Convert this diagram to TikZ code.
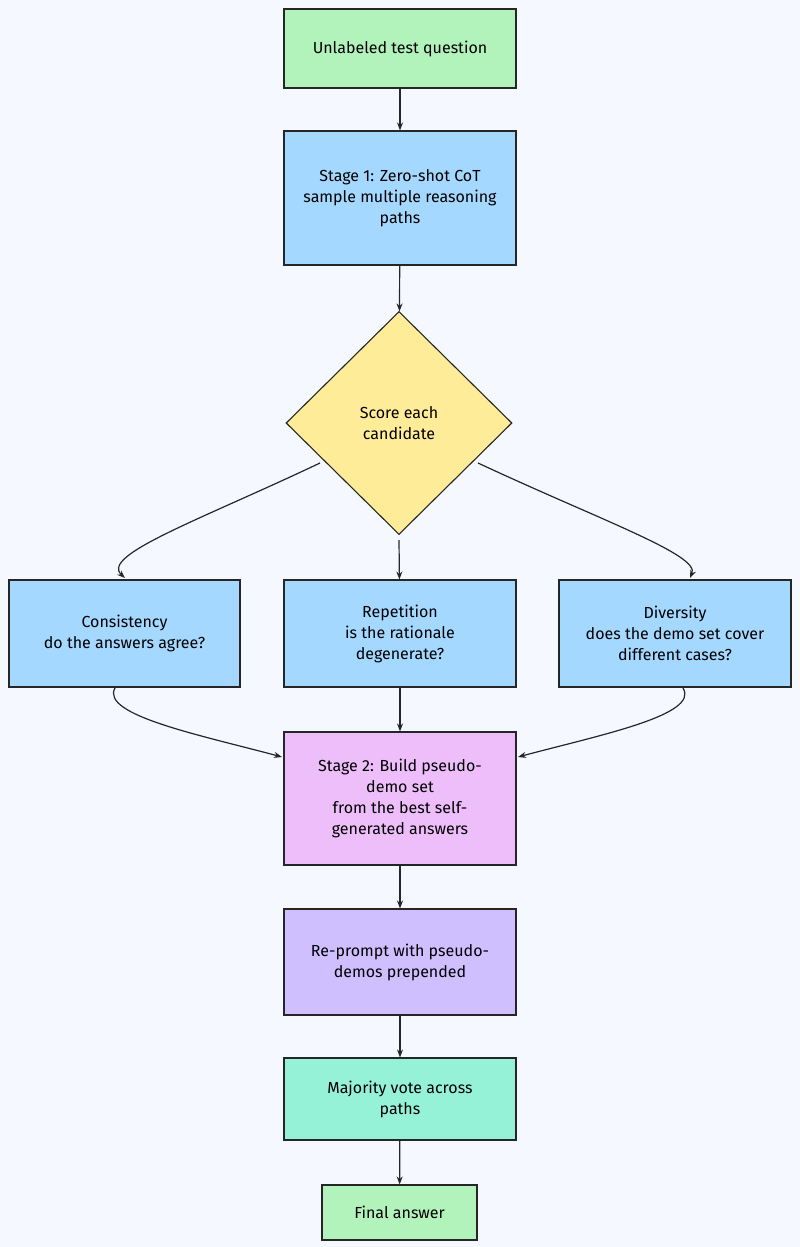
\documentclass[tikz,border=0pt]{standalone}
\usepackage{fontspec}
\setmainfont{Fira Sans}
\usetikzlibrary{shapes.geometric,arrows.meta}
\definecolor{bg}{HTML}{F5F9FF}
\definecolor{cgreen}{HTML}{B2F2BB}
\definecolor{cblue}{HTML}{A5D8FF}
\definecolor{cyellow}{HTML}{FFEC99}
\definecolor{cpink}{HTML}{EEBEFA}
\definecolor{cpurple}{HTML}{D0BFFF}
\definecolor{cteal}{HTML}{96F2D7}
\tikzset{
  box/.style={draw=black!85, line width=1.1pt, align=center, inner sep=2pt, font=\fontsize{16}{21}\selectfont},
  arr/.style={-{Stealth[length=8pt,width=6pt]}, line width=1.2pt, black!85}
}
\begin{document}
\begin{tikzpicture}[x=1pt,y=-1pt]
\fill[bg] (0,0) rectangle (800,1247);
\useasboundingbox (0,0) rectangle (800,1247);
\node[box, fill=cgreen, minimum width=232pt, minimum height=79pt] (q) at (400,48.5) {Unlabeled test question};
\node[box, fill=cblue, minimum width=232pt, minimum height=134pt] (s1) at (400,198) {Stage 1: Zero-shot CoT\\sample multiple reasoning\\paths};
\node[draw=black!85, line width=1.1pt, fill=cyellow, diamond, minimum width=226pt, minimum height=223pt, inner sep=0pt, align=center, font=\fontsize{16}{21}\selectfont] (d) at (399,423) {Score each\\candidate};
\node[box, fill=cblue, minimum width=231pt, minimum height=107pt] (c) at (124.5,633.5) {Consistency\\do the answers agree?};
\node[box, fill=cblue, minimum width=232pt, minimum height=107pt] (r) at (400,633.5) {Repetition\\is the rationale\\degenerate?};
\node[box, fill=cblue, minimum width=232pt, minimum height=107pt] (v) at (675,633.5) {Diversity\\does the demo set cover\\different cases?};
\node[box, fill=cpink, minimum width=232pt, minimum height=133pt] (s2) at (400,798.5) {Stage 2: Build pseudo-\\demo set\\from the best self-\\generated answers};
\node[box, fill=cpurple, minimum width=232pt, minimum height=106pt] (rp) at (400,962) {Re-prompt with pseudo-\\demos prepended};
\node[box, fill=cteal, minimum width=232pt, minimum height=82pt] (m) at (400,1099) {Majority vote across\\paths};
\node[box, fill=cgreen, minimum width=155pt, minimum height=55pt] (f) at (399.5,1212.5) {Final answer};
\draw[arr] (q) -- (s1);
\draw[arr] (s1) -- (d);
\draw[arr] (d.south) ++(0,5) -- (r);
\draw[arr] (320,463) .. controls (200,520) and (100,555) .. (125,578);
\draw[arr] (478,463) .. controls (600,520) and (700,555) .. (690,578);
\draw[arr] (r) -- (s2);
\draw[arr] (115,688) .. controls (100,715) and (200,735) .. (282,757);
\draw[arr] (683,688) .. controls (700,715) and (600,735) .. (518,757);
\draw[arr] (s2) -- (rp);
\draw[arr] (rp) -- (m);
\draw[arr] (m) -- (f);
\end{tikzpicture}
\end{document}
